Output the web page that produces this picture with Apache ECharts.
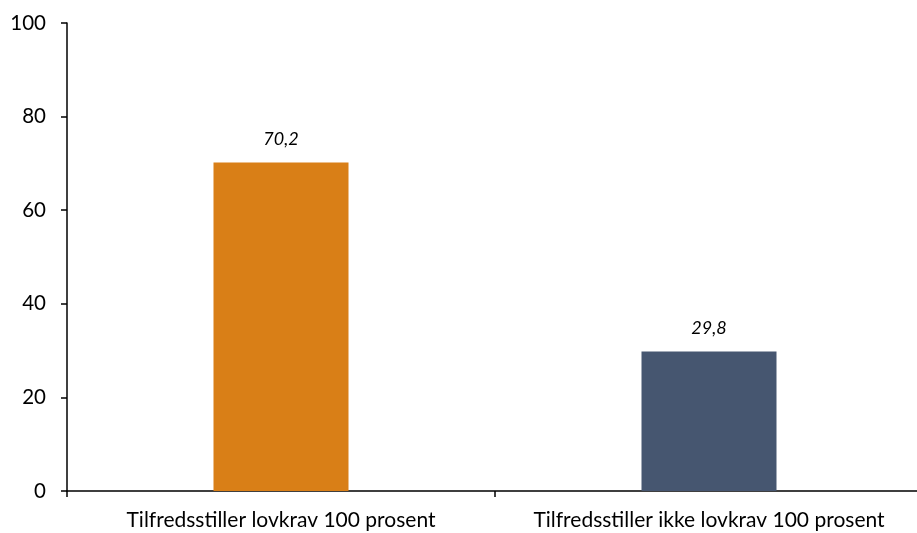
<!DOCTYPE html>
<html><head><meta charset="utf-8">
<script src="https://cdn.jsdelivr.net/npm/echarts@6/dist/echarts.min.js"></script>
<style>html,body{margin:0;padding:0;background:#fff}#c{width:917px;height:533px}</style>
</head><body><div id="c"></div>
<script>
const categories = ['Tilfredsstiller lovkrav 100 prosent', 'Tilfredsstiller ikke lovkrav 100 prosent'];
const values = [70.2, 29.8];
const colors = ['#D97F17', '#465670'];
const yTicks = [0, 20, 40, 60, 80, 100];

const chart = echarts.init(document.getElementById('c'));
chart.setOption({
  animation: false,
  grid: { left: 67, width: 856, top: 23, bottom: 42, containLabel: false, outerBoundsMode: 'none' },
  xAxis: {
    type: 'category', data: categories,
    axisLine: { lineStyle: { color: '#000', width: 1.5 } },
    axisTick: { show: true, length: 6, lineStyle: { color: '#000', width: 1.5 } },
    axisLabel: { color: '#000', fontFamily: 'Lato', fontSize: 21, margin: 19, interval: 0, hideOverlap: false },
    splitLine: { show: false }
  },
  yAxis: {
    type: 'value', min: yTicks[0], max: yTicks[yTicks.length - 1], interval: 20,
    axisLine: { show: true, lineStyle: { color: '#000', width: 1.5 } },
    axisTick: { show: true, length: 6, lineStyle: { color: '#000', width: 1.5 } },
    axisLabel: { color: '#000', fontFamily: 'Lato', fontSize: 20.5, margin: 21 },
    splitLine: { show: false }
  },
  series: [{
    type: 'bar', barWidth: 135,
    data: values.map((v, i) => ({ value: v, itemStyle: { color: colors[i] } })),
    label: {
      show: true, position: 'top', distance: 14,
      fontFamily: 'Lato', fontStyle: 'italic', fontSize: 18, color: '#000',
      formatter: p => String(p.value).replace('.', ',')
    }
  }]
});
</script></body></html>
